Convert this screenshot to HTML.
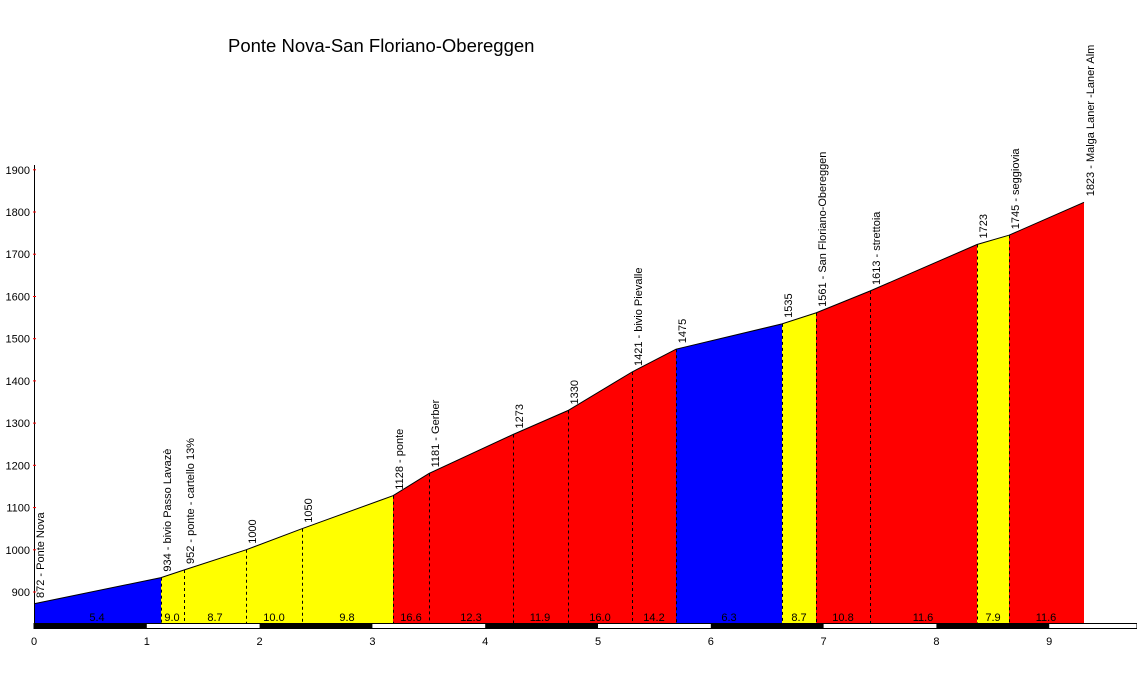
<!DOCTYPE html><html><head><style>body{margin:0;background:#fff}svg{display:block}text{font-family:"Liberation Sans",sans-serif;fill:#000;font-size:11px}</style></head><body>
<svg width="1137" height="673" xmlns="http://www.w3.org/2000/svg">
<text x="228" y="52" style="font-size:18.5px">Ponte Nova-San Floriano-Obereggen</text>
<g>
<polygon points="34,623 34,603.8 161,577.6 161,623" fill="#0000ff"/>
<polygon points="161,623 161,577.6 184,570 246,549.8 302,528.7 393,495.7 393,623" fill="#ffff00"/>
<polygon points="393,623 393,495.7 429,473.4 513,434.5 568,410.5 632,372 676,349.2 676,623" fill="#ff0000"/>
<polygon points="676,623 676,349.2 782,323.9 782,623" fill="#0000ff"/>
<polygon points="782,623 782,323.9 816,312.9 816,623" fill="#ffff00"/>
<polygon points="816,623 816,312.9 870,291 977,244.5 977,623" fill="#ff0000"/>
<polygon points="977,623 977,244.5 1009,235.2 1009,623" fill="#ffff00"/>
<polygon points="1009,623 1009,235.2 1084,202.3 1084,623" fill="#ff0000"/>
</g>
<g stroke="#000" stroke-dasharray="3,3">
<line x1="161.5" y1="577.6" x2="161.5" y2="623"/><line x1="184.5" y1="570" x2="184.5" y2="623"/>
<line x1="246.5" y1="549.8" x2="246.5" y2="623"/><line x1="302.5" y1="528.7" x2="302.5" y2="623"/>
<line x1="393.5" y1="495.7" x2="393.5" y2="623"/><line x1="429.5" y1="473.4" x2="429.5" y2="623"/>
<line x1="513.5" y1="434.5" x2="513.5" y2="623"/><line x1="568.5" y1="410.5" x2="568.5" y2="623"/>
<line x1="632.5" y1="372" x2="632.5" y2="623"/><line x1="676.5" y1="349.2" x2="676.5" y2="623"/>
<line x1="782.5" y1="323.9" x2="782.5" y2="623"/><line x1="816.5" y1="312.9" x2="816.5" y2="623"/>
<line x1="870.5" y1="291" x2="870.5" y2="623"/><line x1="977.5" y1="244.5" x2="977.5" y2="623"/>
<line x1="1009.5" y1="235.2" x2="1009.5" y2="623"/>
</g>
<polyline points="34,603.8 161,577.6 184,570 246,549.8 302,528.7 393,495.7 429,473.4 513,434.5 568,410.5 632,372 676,349.2 782,323.9 816,312.9 870,291 977,244.5 1009,235.2 1084,202.3" fill="none" stroke="#000"/>
<g text-anchor="middle">
<text x="97" y="621">5.4</text><text x="172" y="621">9.0</text><text x="215" y="621">8.7</text>
<text x="274" y="621">10.0</text><text x="347" y="621">9.8</text><text x="411" y="621">16.6</text>
<text x="471" y="621">12.3</text><text x="540" y="621">11.9</text><text x="600" y="621">16.0</text>
<text x="654" y="621">14.2</text><text x="729" y="621">6.3</text><text x="799" y="621">8.7</text>
<text x="843" y="621">10.8</text><text x="923" y="621">11.6</text><text x="993" y="621">7.9</text>
<text x="1046" y="621">11.6</text>
</g>
<g>
<text transform="translate(44,598) rotate(-90)">872 - Ponte Nova</text>
<text transform="translate(171,571.6) rotate(-90)">934 - bivio Passo Lavazè</text>
<text transform="translate(194,564) rotate(-90)">952 - ponte - cartello 13%</text>
<text transform="translate(256,543.8) rotate(-90)">1000</text>
<text transform="translate(312,522.7) rotate(-90)">1050</text>
<text transform="translate(403,489.7) rotate(-90)">1128 - ponte</text>
<text transform="translate(439,467.4) rotate(-90)">1181 - Gerber</text>
<text transform="translate(523,428.5) rotate(-90)">1273</text>
<text transform="translate(578,404.5) rotate(-90)">1330</text>
<text transform="translate(642,366) rotate(-90)">1421 - bivio Pievalle</text>
<text transform="translate(686,343.2) rotate(-90)">1475</text>
<text transform="translate(792,317.9) rotate(-90)">1535</text>
<text transform="translate(826,306.9) rotate(-90)">1561 - San Floriano-Obereggen</text>
<text transform="translate(880,285) rotate(-90)">1613 - strettoia</text>
<text transform="translate(987,238.5) rotate(-90)">1723</text>
<text transform="translate(1019,229.2) rotate(-90)">1745 - seggiovia</text>
<text transform="translate(1094,196.3) rotate(-90)">1823 - Malga Laner -Laner Alm</text>
</g>
<rect x="34" y="623.5" width="1103" height="5" fill="#fff" stroke="#000"/>
<g fill="#000">
<rect x="34" y="623" width="112.8" height="6"/><rect x="259.6" y="623" width="112.8" height="6"/>
<rect x="485.2" y="623" width="112.8" height="6"/><rect x="710.8" y="623" width="112.8" height="6"/>
<rect x="936.4" y="623" width="112.8" height="6"/>
</g>
<g text-anchor="middle">
<text x="34" y="645">0</text><text x="146.8" y="645">1</text><text x="259.6" y="645">2</text>
<text x="372.4" y="645">3</text><text x="485.2" y="645">4</text><text x="598" y="645">5</text>
<text x="710.8" y="645">6</text><text x="823.6" y="645">7</text><text x="936.4" y="645">8</text>
<text x="1049.2" y="645">9</text>
</g>
<line x1="34.5" y1="165" x2="34.5" y2="624" stroke="#000"/>
<g stroke="#f00">
<line x1="33" y1="592" x2="36" y2="592"/><line x1="33" y1="549.8" x2="36" y2="549.8"/>
<line x1="33" y1="507.6" x2="36" y2="507.6"/><line x1="33" y1="465.3" x2="36" y2="465.3"/>
<line x1="33" y1="423.1" x2="36" y2="423.1"/><line x1="33" y1="380.9" x2="36" y2="380.9"/>
<line x1="33" y1="338.7" x2="36" y2="338.7"/><line x1="33" y1="296.5" x2="36" y2="296.5"/>
<line x1="33" y1="254.2" x2="36" y2="254.2"/><line x1="33" y1="212" x2="36" y2="212"/>
<line x1="33" y1="169.8" x2="36" y2="169.8"/>
</g>
<g text-anchor="end">
<text x="30" y="596">900</text><text x="30" y="553.8">1000</text><text x="30" y="511.6">1100</text>
<text x="30" y="469.3">1200</text><text x="30" y="427.1">1300</text><text x="30" y="384.9">1400</text>
<text x="30" y="342.7">1500</text><text x="30" y="300.5">1600</text><text x="30" y="258.2">1700</text>
<text x="30" y="216">1800</text><text x="30" y="173.8">1900</text>
</g>
</svg></body></html>
